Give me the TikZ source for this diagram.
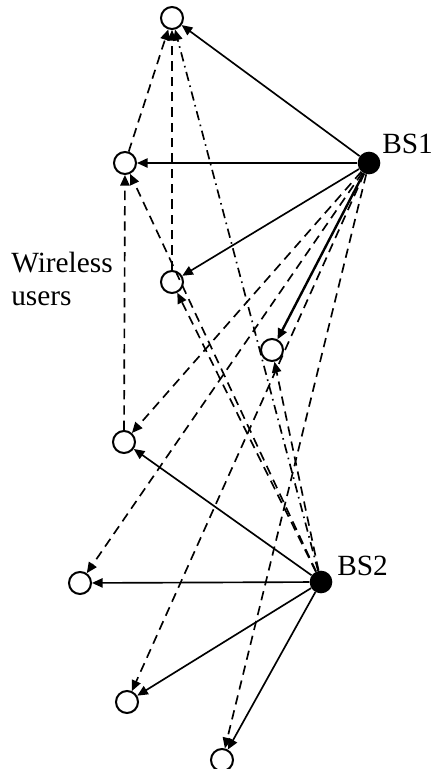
\documentclass[tikz,border=0pt]{standalone}
\usepackage{fontspec}
\setmainfont{Liberation Serif}
\usetikzlibrary{arrows.meta}
\begin{document}
\begin{tikzpicture}[x=0.75pt,y=-0.75pt,
  user/.style={circle,draw,line width=1.5pt,minimum size=16.5pt,inner sep=0pt},
  bs/.style={circle,fill,minimum size=17pt,inner sep=0pt},
  link/.style={line width=1.25pt,-{Triangle[length=8pt,width=7pt]}},
  thicklink/.style={link,line width=1.8pt},
  relay/.style={link,dash pattern=on 7pt off 4.5pt},
  dashdot/.style={link,dash pattern=on 7pt off 3.5pt on 1.2pt off 3.5pt},
  lbl/.style={font=\fontsize{22}{26}\selectfont,inner sep=0pt,anchor=base west}]
\useasboundingbox (0,0) rectangle (431,769);
% users
\node[user] (u1) at (172,18) {};
\node[user] (u2) at (125,163) {};
\node[user] (u3) at (172,282) {};
\node[user] (u4) at (272,350) {};
\node[user] (u5) at (124,442) {};
\node[user] (u6) at (80,583) {};
\node[user] (u7) at (127,702) {};
\node[user] (u8) at (222,760) {};
% base stations
\node[bs] (bs1) at (369,163) {};
\node[bs] (bs2) at (321,582) {};
% labels
\node[lbl] (l1) at (382,153) {BS1};
\node[lbl] (l2) at (337,575) {BS2};
\node[lbl] (w1) at (11,272) {Wireless};
\node[lbl] (w2) at (11,305) {users};
% BS1 links
\draw[link] (bs1) -- (u1);
\draw[link] (bs1) -- (u2);
\draw[link] (bs1) -- (u3);
\draw[thicklink] (bs1) -- (u4);
\draw[relay] (bs1) -- (u5);
\draw[relay] (bs1) -- (u6);
\draw[relay] (bs1) -- (u7);
\draw[relay] (bs1) -- (u8);
% BS2 links
\draw[link] (bs2) -- (u5);
\draw[link] (bs2) -- (u6);
\draw[link] (bs2) -- (u7);
\draw[link] (bs2) -- (u8);
\draw[relay] (bs2) -- (u2);
\draw[relay] (bs2) -- (u3);
\draw[relay] (bs2) -- (u4);
\draw[dashdot] (bs2) -- (u1);
% relays between users
\draw[relay] (u2) -- (u1);
\draw[relay] (u3) -- (u1);
\draw[relay] (u5) -- (u2);
\end{tikzpicture}
\end{document}
